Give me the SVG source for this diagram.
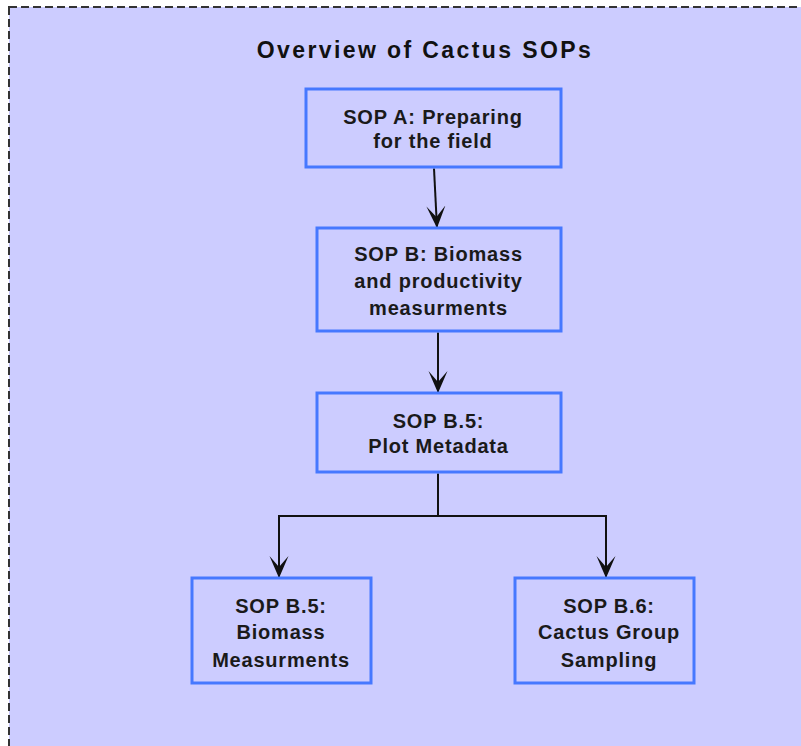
<svg xmlns="http://www.w3.org/2000/svg" width="801" height="746" viewBox="0 0 801 746">
<style>
.box{fill:#ccccff;stroke:#4678ff;stroke-width:3}
.lbl{font-family:"Liberation Sans",Arial,sans-serif;font-weight:bold;font-size:20px;letter-spacing:0.8px;fill:#1a1a1a;text-anchor:middle}
.title{font-family:"Liberation Sans",Arial,sans-serif;font-weight:bold;font-size:23px;letter-spacing:2.4px;fill:#111;text-anchor:middle}
.conn{fill:none;stroke:#111;stroke-width:2}
</style>
<defs>
<marker id="arr" markerUnits="userSpaceOnUse" markerWidth="24" markerHeight="22" viewBox="0 0 24 22" refX="22" refY="11" orient="auto">
<path d="M0,1.5 L22,11 L0,20.5 L11,11 Z" fill="#111"/>
</marker>
</defs>
<rect x="0" y="0" width="801" height="746" fill="#ffffff"/>
<rect x="9" y="7" width="820" height="780" fill="#ccccff" stroke="#333" stroke-width="2" stroke-dasharray="8 4"/>
<text class="title" x="425" y="58">Overview of Cactus SOPs</text>
<g id="connectors">
<path class="conn" d="M434,168.5 L437,228" marker-end="url(#arr)"/>
<path class="conn" d="M438,332.5 L438,393" marker-end="url(#arr)"/>
<path class="conn" d="M438,473.5 V516 H279 V578" marker-end="url(#arr)"/>
<path class="conn" d="M438,516 H606 V578" marker-end="url(#arr)"/>
</g>
<g id="sopA">
<rect class="box" x="306" y="89" width="255" height="78"/>
<text class="lbl" x="433" y="124">SOP A: Preparing</text>
<text class="lbl" x="433" y="148">for the field</text>
</g>
<g id="sopB">
<rect class="box" x="317" y="228" width="244" height="103"/>
<text class="lbl" x="438.5" y="261">SOP B: Biomass</text>
<text class="lbl" x="438.5" y="288">and productivity</text>
<text class="lbl" x="438.5" y="315">measurments</text>
</g>
<g id="sopB5meta">
<rect class="box" x="317" y="393" width="244" height="79"/>
<text class="lbl" x="438.5" y="428">SOP B.5:</text>
<text class="lbl" x="438.5" y="453">Plot Metadata</text>
</g>
<g id="sopB5bio">
<rect class="box" x="192" y="578" width="179" height="105"/>
<text class="lbl" x="281" y="613">SOP B.5:</text>
<text class="lbl" x="281" y="639">Biomass</text>
<text class="lbl" x="281" y="667">Measurments</text>
</g>
<g id="sopB6">
<rect class="box" x="515" y="578" width="179" height="105"/>
<text class="lbl" x="609" y="613">SOP B.6:</text>
<text class="lbl" x="609" y="639">Cactus Group</text>
<text class="lbl" x="609" y="667">Sampling</text>
</g>
</svg>
